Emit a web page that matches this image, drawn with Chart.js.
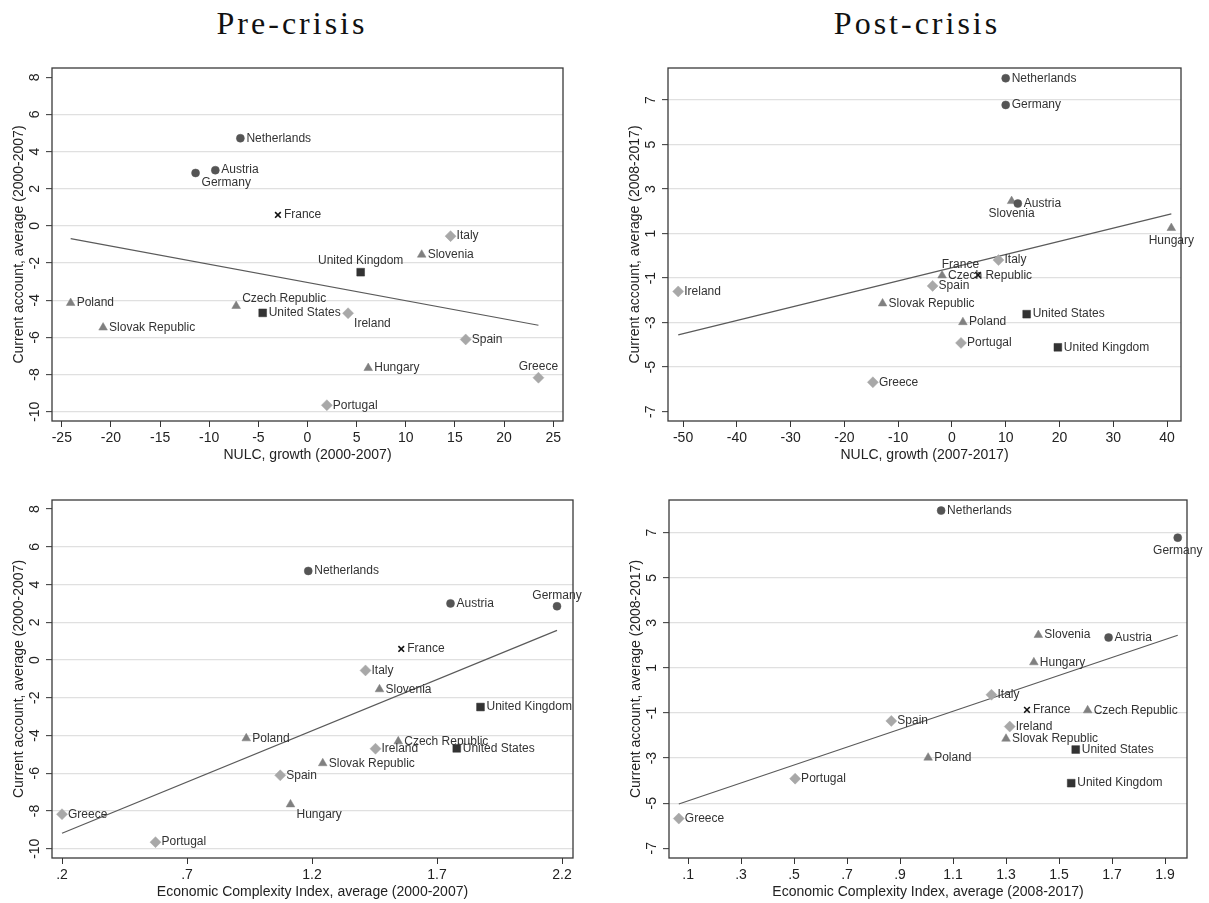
<!DOCTYPE html>
<html>
<head>
<meta charset="utf-8">
<script src="https://cdn.jsdelivr.net/npm/chart.js@4.4.0/dist/chart.umd.min.js"></script>
<style>
body { margin: 0; background: #fff; }
#wrap { position: relative; width: 1209px; height: 903px; overflow: hidden; background: #fff; }
canvas { position: absolute; }
.ttl { position: absolute; top: 7px; width: 300px; text-align: center; font-family: "Liberation Serif", serif;
       font-size: 32px; letter-spacing: 3px; color: #111; line-height: 1; white-space: nowrap; }
</style>
</head>
<body>
<div id="wrap">
  <div class="ttl" style="left:142px">Pre-crisis</div>
  <div class="ttl" style="left:767px">Post-crisis</div>
  <canvas id="c1" width="604" height="425" style="left:0;top:50px"></canvas>
  <canvas id="c2" width="605" height="425" style="left:604px;top:50px"></canvas>
  <canvas id="c3" width="604" height="428" style="left:0;top:475px"></canvas>
  <canvas id="c4" width="605" height="428" style="left:604px;top:475px"></canvas>
</div>
<script>
// countries and their marker group
var countries = ['Netherlands', 'Austria', 'Germany', 'France', 'Italy', 'Slovenia', 'United Kingdom', 'Poland',
  'Czech Republic', 'United States', 'Ireland', 'Slovak Republic', 'Spain', 'Hungary', 'Greece', 'Portugal'];
var groups = ['core', 'core', 'core', 'fr', 'south', 'east', 'anglo', 'east',
  'east', 'anglo', 'south', 'east', 'south', 'east', 'south', 'south'];

// current account averages
var caPre  = [4.72, 3.00, 2.85, 0.59, -0.55, -1.55, -2.49, -4.15, -4.31, -4.68, -4.70, -5.47, -6.11, -7.65, -8.17, -9.65];
var caPost = [7.98, 2.35, 6.78, -0.86, -0.19, 2.46, -4.11, -2.98, -0.88, -2.62, -1.60, -2.14, -1.35, 1.25, -5.68, -3.91];

// NULC growth
var nulcPre  = [-6.83, -9.38, -11.39, -3.01, 14.56, 11.62, 5.41, -24.1, -7.26, -4.56, 4.13, -20.8, 16.1, 6.18, 23.5, 1.97];
var nulcPost = [10.0, 12.25, 10.0, 4.86, 8.66, 11.1, 19.7, 2.04, -1.83, 13.9, -50.9, -12.9, -3.59, 40.8, -14.7, 1.69];

// economic complexity index
var eciPre  = [1.185, 1.754, 2.18, 1.557, 1.414, 1.47, 1.874, 0.937, 1.545, 1.779, 1.454, 1.243, 1.073, 1.114, 0.2, 0.574];
var eciPost = [1.055, 1.687, 1.948, 1.379, 1.245, 1.422, 1.546, 1.006, 1.608, 1.563, 1.314, 1.30, 0.867, 1.405, 0.065, 0.504];

// ticks
var caPreTicks = [-10, -8, -6, -4, -2, 0, 2, 4, 6, 8];
var caPostTicks = [-7, -5, -3, -1, 1, 3, 5, 7];
var nulcPreTicks = [-25, -20, -15, -10, -5, 0, 5, 10, 15, 20, 25];
var nulcPostTicks = [-50, -40, -30, -20, -10, 0, 10, 20, 30, 40];
var eciPreTicks = [0.2, 0.7, 1.2, 1.7, 2.2];
var eciPreTickLabels = ['.2', '.7', '1.2', '1.7', '2.2'];
var eciPostTicks = [0.1, 0.3, 0.5, 0.7, 0.9, 1.1, 1.3, 1.5, 1.7, 1.9];
var eciPostTickLabels = ['.1', '.3', '.5', '.7', '.9', '1.1', '1.3', '1.5', '1.7', '1.9'];

var markerStyle = {
  core:  { shape: 'circle',   r: 4,   color: '#555555' },
  fr:    { shape: 'crossRot', r: 4,   color: '#111111' },
  south: { shape: 'rectRot',  r: 5.5, color: '#a8a8a8' },
  east:  { shape: 'triangle', r: 5,   color: '#808080' },
  anglo: { shape: 'rect',     r: 5.5, color: '#333333' }
};

function fitLine(xs, ys) {
  var n = xs.length, mx = 0, my = 0;
  for (var i = 0; i < n; i++) { mx += xs[i]; my += ys[i]; }
  mx /= n; my /= n;
  var sxy = 0, sxx = 0;
  for (i = 0; i < n; i++) { sxy += (xs[i] - mx) * (ys[i] - my); sxx += (xs[i] - mx) * (xs[i] - mx); }
  var b = sxy / sxx, a = my - b * mx;
  var lo = Math.min.apply(null, xs), hi = Math.max.apply(null, xs);
  return [{ x: lo, y: a + b * lo }, { x: hi, y: a + b * hi }];
}

function drawLabel(ctx, name, x, y, pos) {
  var tx = x + 6, ty = y;
  ctx.textAlign = 'left';
  if (pos == 't') { ctx.textAlign = 'center'; tx = x; ty = y - 11; }
  else if (pos == 'b') { ctx.textAlign = 'center'; tx = x; ty = y + 13; }
  else if (pos == 'br') { tx = x + 6; ty = y + 10; }
  else if (pos == 'tr') { tx = x + 6; ty = y - 7; }
  else if (pos == 'tl') { ctx.textAlign = 'right'; tx = x + 1; ty = y - 10; }
  ctx.fillText(name, tx, ty);
}

var decor = {
  id: 'decor',
  afterDatasetsDraw: function(chart) {
    var ctx = chart.ctx, o = chart.options.plugins.decor;
    ctx.save();
    ctx.font = '12px "Liberation Sans", Arial, sans-serif';
    ctx.fillStyle = '#333';
    ctx.textBaseline = 'middle';
    chart.data.datasets.forEach(function(ds, di) {
      if (!ds.isPoints) return;
      chart.getDatasetMeta(di).data.forEach(function(el, i) {
        var name = ds.data[i].name;
        drawLabel(ctx, name, el.x, el.y, o.labelPos[name] || 'r');
      });
    });
    ctx.restore();
  },
  afterDraw: function(chart) {
    var ctx = chart.ctx, o = chart.options.plugins.decor, a = chart.chartArea;
    var xs = chart.scales.x, ys = chart.scales.y;
    ctx.save();
    ctx.strokeStyle = '#3a3a3a';
    ctx.lineWidth = 1.3;
    ctx.strokeRect(a.left, a.top, a.right - a.left, a.bottom - a.top);
    ctx.fillStyle = '#222';
    ctx.font = '14px "Liberation Sans", Arial, sans-serif';
    ctx.textAlign = 'center';
    ctx.textBaseline = 'middle';
    o.xTicks.forEach(function(v, i) {
      ctx.fillText(o.xLabels ? o.xLabels[i] : String(v), xs.getPixelForValue(v), a.bottom + 17);
    });
    o.yTicks.forEach(function(v) {
      ctx.save();
      ctx.translate(a.left - 17, ys.getPixelForValue(v));
      ctx.rotate(-Math.PI / 2);
      ctx.fillText(String(v), 0, 0);
      ctx.restore();
    });
    ctx.fillText(o.xTitle, (a.left + a.right) / 2, a.bottom + 34);
    ctx.save();
    ctx.translate(a.left - 33, (a.top + a.bottom) / 2);
    ctx.rotate(-Math.PI / 2);
    ctx.fillText(o.yTitle, 0, 0);
    ctx.restore();
    ctx.restore();
  }
};

function makePanel(id, xv, yv, p) {
  var byGroup = {};
  countries.forEach(function(c, i) {
    (byGroup[groups[i]] = byGroup[groups[i]] || []).push({ x: xv[i], y: yv[i], name: c });
  });
  var datasets = [{
    type: 'line', data: fitLine(xv, yv), borderColor: '#5a5a5a', borderWidth: 1.2,
    pointRadius: 0, fill: false, order: 10
  }];
  Object.keys(byGroup).forEach(function(g) {
    var m = markerStyle[g];
    datasets.push({
      isPoints: true, data: byGroup[g], pointStyle: m.shape, pointRadius: m.r,
      backgroundColor: m.color, borderColor: m.color, borderWidth: g == 'fr' ? 1.6 : 0.5, order: 1
    });
  });
  new Chart(document.getElementById(id), {
    type: 'scatter',
    data: { datasets: datasets },
    plugins: [decor],
    options: {
      responsive: false,
      animation: false,
      layout: { padding: p.pad, autoPadding: false },
      plugins: {
        legend: { display: false },
        tooltip: { enabled: false },
        decor: { labelPos: p.labelPos, xTicks: p.xTicks, xLabels: p.xLabels, yTicks: p.yTicks, xTitle: p.xTitle, yTitle: p.yTitle }
      },
      scales: {
        x: {
          type: 'linear', min: p.xRange[0], max: p.xRange[1],
          afterBuildTicks: function(s) { s.ticks = p.xTicks.map(function(v) { return { value: v }; }); },
          afterFit: function(s) { s.height = p.xHeight; },
          ticks: { display: false },
          border: { display: false },
          grid: { drawOnChartArea: false, drawTicks: true, tickLength: 6, tickColor: '#333', tickWidth: 1 }
        },
        y: {
          type: 'linear', min: p.yRange[0], max: p.yRange[1],
          afterBuildTicks: function(s) { s.ticks = p.yTicks.map(function(v) { return { value: v }; }); },
          afterFit: function(s) { s.width = p.yWidth; },
          ticks: { display: false },
          border: { display: false },
          grid: {
            drawTicks: true, tickLength: 6, tickColor: '#333', tickWidth: 1, lineWidth: 1.3,
            color: function(c) { return c.tick && c.tick.value === p.gridSkip ? 'rgba(0,0,0,0)' : '#e0e0e0'; }
          }
        }
      }
    }
  });
}

makePanel('c1', nulcPre, caPre, {
  pad: { left: 0, top: 18, right: 41, bottom: 0 }, yWidth: 52, xHeight: 54,
  xRange: [-26, 26], yRange: [-10.5, 8.5], xTicks: nulcPreTicks, yTicks: caPreTicks, gridSkip: 8,
  xTitle: 'NULC, growth (2000-2007)', yTitle: 'Current account, average (2000-2007)',
  labelPos: { 'Germany': 'br', 'United Kingdom': 't', 'Czech Republic': 'tr', 'Ireland': 'br', 'Greece': 't' }
});
makePanel('c2', nulcPost, caPost, {
  pad: { left: 0, top: 18, right: 28, bottom: 0 }, yWidth: 64, xHeight: 54,
  xRange: [-52.8, 42.6], yRange: [-7.42, 8.44], xTicks: nulcPostTicks, yTicks: caPostTicks, gridSkip: -7,
  xTitle: 'NULC, growth (2007-2017)', yTitle: 'Current account, average (2008-2017)',
  labelPos: { 'France': 'tl', 'Slovenia': 'b', 'Hungary': 'b' }
});
makePanel('c3', eciPre, caPre, {
  pad: { left: 0, top: 25, right: 31, bottom: 0 }, yWidth: 52, xHeight: 45,
  xRange: [0.16, 2.244], yRange: [-10.49, 8.48], xTicks: eciPreTicks, xLabels: eciPreTickLabels, yTicks: caPreTicks, gridSkip: 8,
  xTitle: 'Economic Complexity Index, average (2000-2007)', yTitle: 'Current account, average (2000-2007)',
  labelPos: { 'Germany': 't', 'Hungary': 'br' }
});
makePanel('c4', eciPost, caPost, {
  pad: { left: 0, top: 25, right: 22, bottom: 0 }, yWidth: 65, xHeight: 45,
  xRange: [0.028, 1.983], yRange: [-7.43, 8.45], xTicks: eciPostTicks, xLabels: eciPostTickLabels, yTicks: caPostTicks, gridSkip: -7,
  xTitle: 'Economic Complexity Index, average (2008-2017)', yTitle: 'Current account, average (2008-2017)',
  labelPos: { 'Germany': 'b' }
});
</script>
</body>
</html>
